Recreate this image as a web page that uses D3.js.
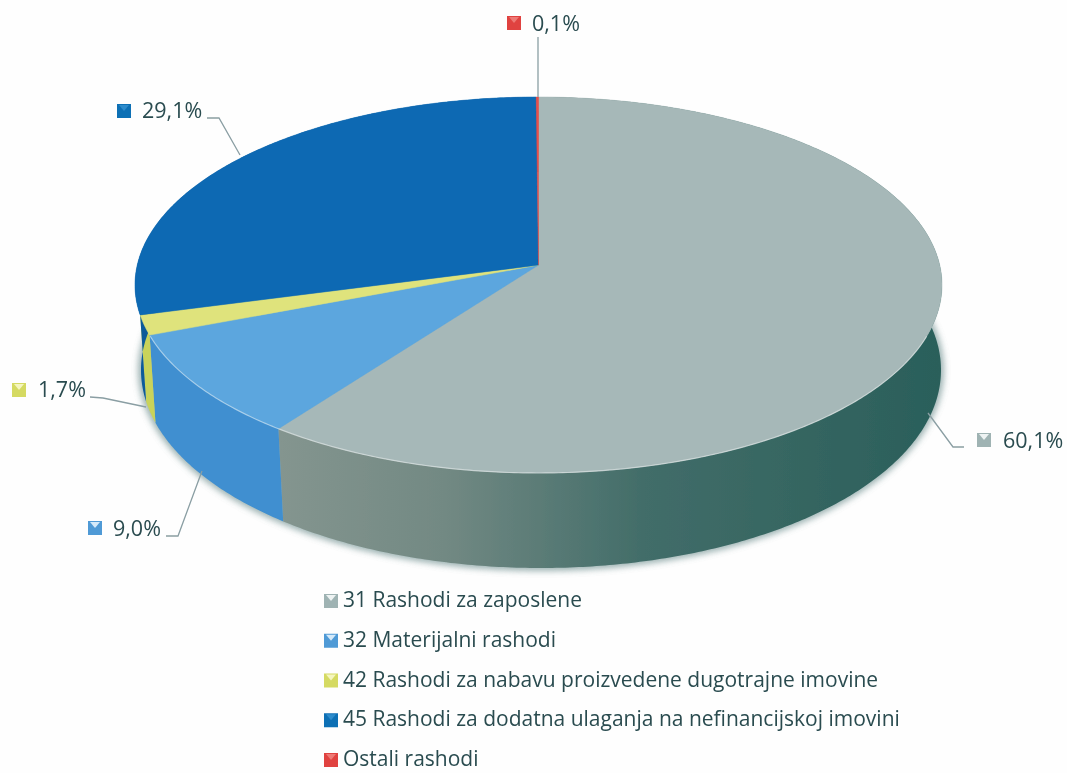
<!DOCTYPE html>
<html>
<head>
<meta charset="utf-8">
<script src="https://cdnjs.cloudflare.com/ajax/libs/d3/7.8.5/d3.min.js"></script>
<style>
html, body { margin: 0; padding: 0; background: #fefefe; overflow: hidden; }
text { font-family: "Open Sans", sans-serif; fill: #2a4c50; }
</style>
</head>
<body>
<div id="chart"></div>
<script>
// data
const categories = [
    "31 Rashodi za zaposlene",
    "32 Materijalni rashodi",
    "42 Rashodi za nabavu proizvedene dugotrajne imovine",
    "45 Rashodi za dodatna ulaganja na nefinancijskoj imovini",
    "Ostali rashodi"
];
const values = [60.1, 9.0, 1.7, 29.1, 0.1];

const topColors = ["#a6b8b8", "#5ba6de", "#dfe37c", "#0a69b3", "#e5504c"];
const sideColors = ["#7f928e", "#3f8fd0", "#c9d35a", "#0b5a99", "#c8403c"];
const markerColors = ["#9fb3b3", "#4f9ad6", "#d5da62", "#0f6fb5", "#e0433f"];
const markerLights = ["#eef3f3", "#d5eafa", "#f5f6c0", "#2f8ccc", "#ee7a76"];

const width = 1067, height = 773;

// top and bottom rim of the disc, perspective is handled in project()
const topRim = { cx: 538.5, cy: 285, rx: 403.5, ry: 188 };
const botRim = { cx: 541, cy: 370, rx: 400, ry: 198 };
const k = 0.106; // how far the pie centre sits above the ellipse centre

function project(rim, angle, r) {
    const x = r * Math.sin(angle), y = -r * Math.cos(angle);
    const d = 1 - k * y;
    return [rim.cx + rim.rx * x * Math.sqrt(1 - k * k) / d, rim.cy + rim.ry * (y - k) / d];
}

function arcPoints(rim, a0, a1) {
    const n = Math.max(2, Math.ceil(Math.abs(a1 - a0) / 0.01));
    return d3.range(n + 1).map(i => project(rim, a0 + (a1 - a0) * i / n, 1));
}

const line = d3.line();

const svg = d3.select("#chart").append("svg")
    .attr("width", width)
    .attr("height", height)
    .style("display", "block");

const defs = svg.append("defs");
defs.append("filter").attr("id", "soft").attr("x", "-10%").attr("y", "-10%").attr("width", "120%").attr("height", "120%")
    .append("feGaussianBlur").attr("stdDeviation", 3);
defs.append("filter").attr("id", "scan")
    .append("feGaussianBlur").attr("stdDeviation", 0.4);

const grayGrad = defs.append("linearGradient").attr("id", "graySide")
    .attr("gradientUnits", "userSpaceOnUse")
    .attr("x1", 280).attr("x2", 940).attr("y1", 0).attr("y2", 0);
grayGrad.append("stop").attr("offset", "0%").attr("stop-color", "#84958f");
grayGrad.append("stop").attr("offset", "25%").attr("stop-color", "#728983");
grayGrad.append("stop").attr("offset", "55%").attr("stop-color", "#426d69");
grayGrad.append("stop").attr("offset", "100%").attr("stop-color", "#2a5f5a");

const pie = d3.pie().sort(null).value(d => d);
const slices = pie(values);
const color = d3.scaleOrdinal().domain(d3.range(values.length)).range(topColors);
const sideColor = d3.scaleOrdinal().domain(d3.range(values.length)).range(sideColors);

const g = svg.append("g").attr("filter", "url(#scan)");

// soft shadow round the lower edge
g.append("path")
    .attr("d", line(arcPoints({ ...botRim, rx: botRim.rx + 3, ry: botRim.ry + 3 }, 0, 2 * Math.PI)) + "Z")
    .attr("fill", "#7d9a9a")
    .attr("opacity", 0.75)
    .attr("filter", "url(#soft)");

// side walls
g.selectAll(".side")
    .data(slices)
    .enter().append("path")
    .attr("class", "side")
    .attr("d", d => line(arcPoints(topRim, d.startAngle, d.endAngle)
        .concat(arcPoints(botRim, d.endAngle, d.startAngle))) + "Z")
    .attr("fill", (d, i) => i === 0 ? "url(#graySide)" : sideColor(i));

// top face
g.selectAll(".slice")
    .data(slices)
    .enter().append("path")
    .attr("class", "slice")
    .attr("d", d => line([project(topRim, 0, 0)].concat(arcPoints(topRim, d.startAngle, d.endAngle))) + "Z")
    .attr("fill", (d, i) => color(i))
    .attr("stroke", (d, i) => color(i))
    .attr("stroke-width", 0.5);

// light rim on the front edge
g.append("path")
    .attr("d", line(arcPoints(topRim, Math.PI * 0.62, Math.PI * 1.38)))
    .attr("fill", "none")
    .attr("stroke", "#ffffff")
    .attr("stroke-opacity", 0.45)
    .attr("stroke-width", 1.2);

// leader lines and data labels
const leaders = [
    [[964, 447], [953, 447], [928, 413]],
    [[166, 536], [178, 536], [202, 471]],
    [[90, 397], [103, 398], [146, 407]],
    [[207, 118], [219, 118], [240, 155]],
    [[538, 37], [538, 97]]
];
const labelPos = [[1003, 448], [113, 536], [38, 397], [142, 118], [532, 31]];
const labelMarker = [[977, 433], [88, 521], [12, 383], [117, 104], [507, 16]];
const fmt = v => d3.format(".1f")(v).replace(".", ",") + "%";

g.selectAll(".leader")
    .data(leaders)
    .enter().append("path")
    .attr("class", "leader")
    .attr("d", d => line(d))
    .attr("fill", "none")
    .attr("stroke", "#8a9ea3")
    .attr("stroke-width", 1.3);

function marker(sel, x, y, i, s) {
    sel.append("rect")
        .attr("x", x).attr("y", y).attr("width", s).attr("height", s)
        .attr("fill", markerColors[i]);
    sel.append("path")
        .attr("d", line([[x + 2, y + 1], [x + s - 2, y + 1], [x + s / 2, y + s * 0.5]]) + "Z")
        .attr("fill", markerLights[i]);
}

values.forEach((v, i) => {
    marker(g, labelMarker[i][0], labelMarker[i][1], i, 14);
    g.append("text")
        .attr("x", labelPos[i][0])
        .attr("y", labelPos[i][1])
        .attr("font-size", 21.5)
        .text(fmt(v));
});

// legend
const legendY = d3.scalePoint().domain(categories).range([607, 766]);
categories.forEach((c, i) => {
    marker(g, 324, legendY(c) - 13, i, 14);
    g.append("text")
        .attr("x", 343)
        .attr("y", legendY(c))
        .attr("font-size", 21)
        .text(c);
});
</script>
</body>
</html>
